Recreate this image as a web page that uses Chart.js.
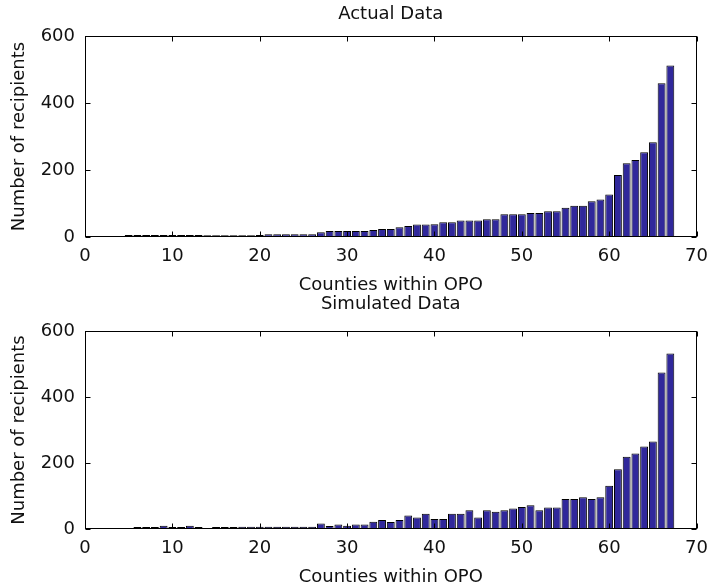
<!DOCTYPE html>
<html>
<head>
<meta charset="utf-8">
<script src="https://cdn.jsdelivr.net/npm/chart.js@4/dist/chart.umd.min.js"></script>
<style>
  html, body { margin:0; padding:0; background:#fff; }
  #wrap { position:relative; width:717px; height:588px; overflow:hidden; }
  canvas { position:absolute; left:0; }
  #topChart { top:0; }
  #botChart { top:290px; }
</style>
</head>
<body>
<div id="wrap">
  <canvas id="topChart" width="717" height="296"></canvas>
  <canvas id="botChart" width="717" height="298"></canvas>
</div>
<script>
// data
const counties = [1,2,3,4,5,6,7,8,9,10,11,12,13,14,15,16,17,18,19,20,
  21,22,23,24,25,26,27,28,29,30,31,32,33,34,35,36,37,38,39,40,
  41,42,43,44,45,46,47,48,49,50,51,52,53,54,55,56,57,58,59,60,
  61,62,63,64,65,66,67];
const actualRecipients = [0,0,0,0,6,6,6,6,6,6,6,6,6,5,5,5,5,5,5,6,
  8,8,8,8,8,8,14,18,18,18,18,18,21,24,24,29,33,37,37,38,
  44,44,49,49,49,53,53,68,68,68,72,72,77,77,87,93,93,107,112,127,
  185,220,230,253,283,459,512];
const simulatedRecipients = [0,0,0,0,0,6,6,6,10,6,6,10,6,2,6,6,6,7,7,7,
  7,7,7,7,7,7,17,9,14,10,14,14,22,27,21,27,41,35,46,30,
  30,46,46,57,35,57,52,57,62,67,72,57,65,65,91,91,96,91,96,131,
  181,219,229,250,265,474,532];
const xTicks = [0,10,20,30,40,50,60,70];
const yTicks = [0,200,400,600];

const FONT = "'DejaVu Sans', sans-serif";
const BAR = 'rgb(48,40,155)';

// MATLAB-ish box with inward ticks on all four sides, plus the axes title
const matlabBox = {
  id: 'matlabBox',
  afterDatasetsDraw(chart, args, opts){
    const { ctx, chartArea:a, scales:{ x, y } } = chart;
    const L = Math.round(a.left)+.5, R = Math.round(a.right)-.5;
    const T = Math.round(a.top)+.5, B = Math.round(a.bottom)-.5;
    ctx.save();
    ctx.strokeStyle = '#000'; ctx.lineWidth = 1;
    ctx.strokeRect(L, T, R-L, B-T);
    ctx.beginPath();
    for(const v of xTicks){
      const px = Math.round(x.getPixelForValue(v))+.5;
      ctx.moveTo(px, B); ctx.lineTo(px, B-5);
      ctx.moveTo(px, T); ctx.lineTo(px, T+5);
    }
    for(const v of yTicks){
      const py = Math.round(y.getPixelForValue(v))+.5;
      ctx.moveTo(L, py); ctx.lineTo(L+5, py);
      ctx.moveTo(R, py); ctx.lineTo(R-5, py);
    }
    ctx.stroke();
    // title centred over the plot box
    ctx.fillStyle = '#111';
    ctx.font = '18px ' + FONT;
    ctx.textAlign = 'center'; ctx.textBaseline = 'middle';
    ctx.fillText(opts.text, (a.left+a.right)/2, opts.y);
    ctx.restore();
  }
};

function build(id, title, values, padTop){
  const ctx = document.getElementById(id).getContext('2d');
  return new Chart(ctx, {
    type: 'bar',
    data: {
      datasets: [{
        data: counties.map((c,i) => ({ x:c, y:values[i] })),
        backgroundColor: BAR,
        borderColor: '#000',
        borderWidth: 1,
        borderSkipped: false,
        barPercentage: 1,
        categoryPercentage: 0.9
      }]
    },
    options: {
      responsive: false,
      animation: false,
      layout: { padding: { left:0, right:12, top:padTop, bottom:0 } },
      plugins: {
        legend: { display:false },
        tooltip: { enabled:false },
        title: { display:false },
        matlabBox: { text:title, y:14 }
      },
      scales: {
        x: {
          type: 'linear', min: 0, max: 70, offset: false,
          grid: { display:false, drawTicks:false },
          border: { display:false },
          afterBuildTicks: s => { s.ticks = xTicks.map(v => ({ value:v })); },
          afterFit: s => { s.height = 59; },
          ticks: { color:'#111', padding: 9, maxRotation:0, font:{ family:FONT, size:18 } },
          title: { display:true, text:'Counties within OPO', color:'#111',
                   font:{ family:FONT, size:18 }, padding:{ top:0, bottom:0 } }
        },
        y: {
          min: 0, max: 600,
          grid: { display:false, drawTicks:false },
          border: { display:false },
          afterBuildTicks: s => { s.ticks = yTicks.map(v => ({ value:v })); },
          afterFit: s => { s.width = 85; },
          ticks: { color:'#111', padding: 10, font:{ family:FONT, size:18 } },
          title: { display:true, text:'Number of recipients', color:'#111',
                   font:{ family:FONT, size:18 }, padding:{ top:9, bottom:0 } }
        }
      }
    },
    plugins: [matlabBox]
  });
}

build('topChart', 'Actual Data', actualRecipients, 36);
build('botChart', 'Simulated Data', simulatedRecipients, 41);
</script>
</body>
</html>
